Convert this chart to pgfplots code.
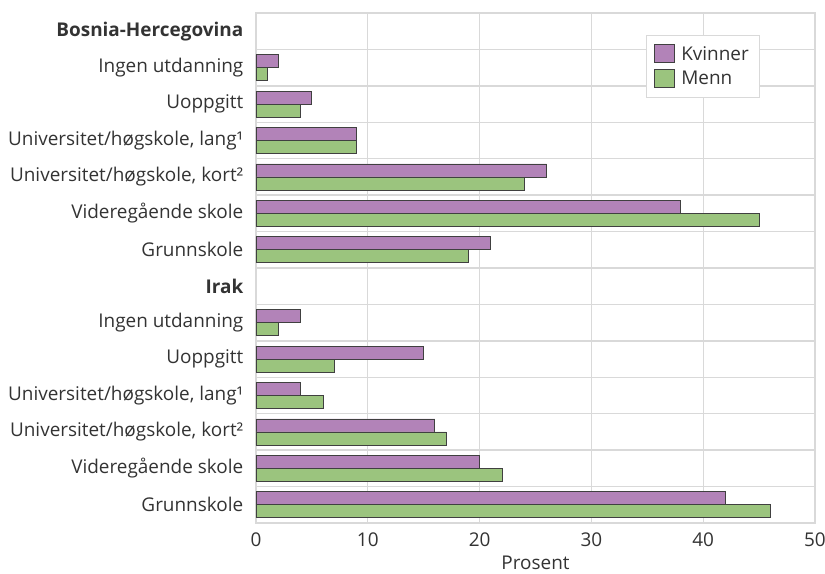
\documentclass[border=0pt]{standalone}
\usepackage{fontspec}
\setmainfont{Open Sans}
\usepackage{pgfplots}
\pgfplotsset{compat=1.18}
\definecolor{kv}{HTML}{B283B8}
\definecolor{me}{HTML}{9BC47E}
\definecolor{gridc}{HTML}{D9D9D9}
\definecolor{txt}{HTML}{333333}
\definecolor{edge}{HTML}{404040}
\begin{document}
\begin{tikzpicture}[font=\fontsize{14.2}{17}\selectfont]
\begin{axis}[
  scale only axis, width=419.25pt, height=382.5pt,
  xmin=0, xmax=50, ymin=-0.5, ymax=13.5,
  xtick={0,10,...,50},
  ytick={0,...,13},
  yticklabels={Grunnskole, Videregående skole, {Universitet/høgskole, kort²}, {Universitet/høgskole, lang¹}, Uoppgitt, Ingen utdanning, \textbf{Irak},
    Grunnskole, Videregående skole, {Universitet/høgskole, kort²}, {Universitet/høgskole, lang¹}, Uoppgitt, Ingen utdanning, \textbf{Bosnia-Hercegovina}},
  minor ytick={-0.5,0.5,...,13.5},
  ymajorgrids=false, yminorgrids=true, xmajorgrids=true,
  grid style={gridc, line width=1pt},
  minor grid style={gridc, line width=1pt},
  axis line style={gridc, line width=1pt},
  major tick length=0pt, minor tick length=0pt,
  tick label style={text=txt, font=\fontsize{14.2}{17}\selectfont},
  yticklabel style={xshift=-6pt},
  xticklabel style={yshift=-3.5pt},
  /pgf/number format/assume math mode=true,
  xlabel={Prosent}, xlabel style={text=txt, at={(axis description cs:0.5,0)}, anchor=center, yshift=-30pt, font=\fontsize{14.2}{17}\selectfont},
  xbar, bar width=0.357,
  legend style={at={(0.9016,0.957)}, anchor=north east, draw=gridc, line width=0.8pt, fill=white, text=txt, inner xsep=6pt, inner ysep=6pt, row sep=3pt, column sep=2.5pt, font=\fontsize{14.2}{17}\selectfont},
  legend cell align=left,
  legend image code/.code={\draw[#1, line width=0.6pt] (0pt,-6.5pt) rectangle (15pt,7.5pt);},
]
\addplot[fill=kv, draw=edge, line width=0.6pt, bar shift=0.1785] coordinates {
 (42,0) (20,1) (16,2) (4,3) (15,4) (4,5)
 (21,7) (38,8) (26,9) (9,10) (5,11) (2,12)};
\addlegendentry{Kvinner}
\addplot[fill=me, draw=edge, line width=0.6pt, bar shift=-0.1785] coordinates {
 (46,0) (22,1) (17,2) (6,3) (7,4) (2,5)
 (19,7) (45,8) (24,9) (9,10) (4,11) (1,12)};
\addlegendentry{Menn}
\end{axis}
\pgfresetboundingbox
\path[use as bounding box] ([shift={(-192pt,-38.25pt)}]current axis.south west) rectangle ([shift={(426.75pt,392.25pt)}]current axis.south west);
\end{tikzpicture}
\end{document}
